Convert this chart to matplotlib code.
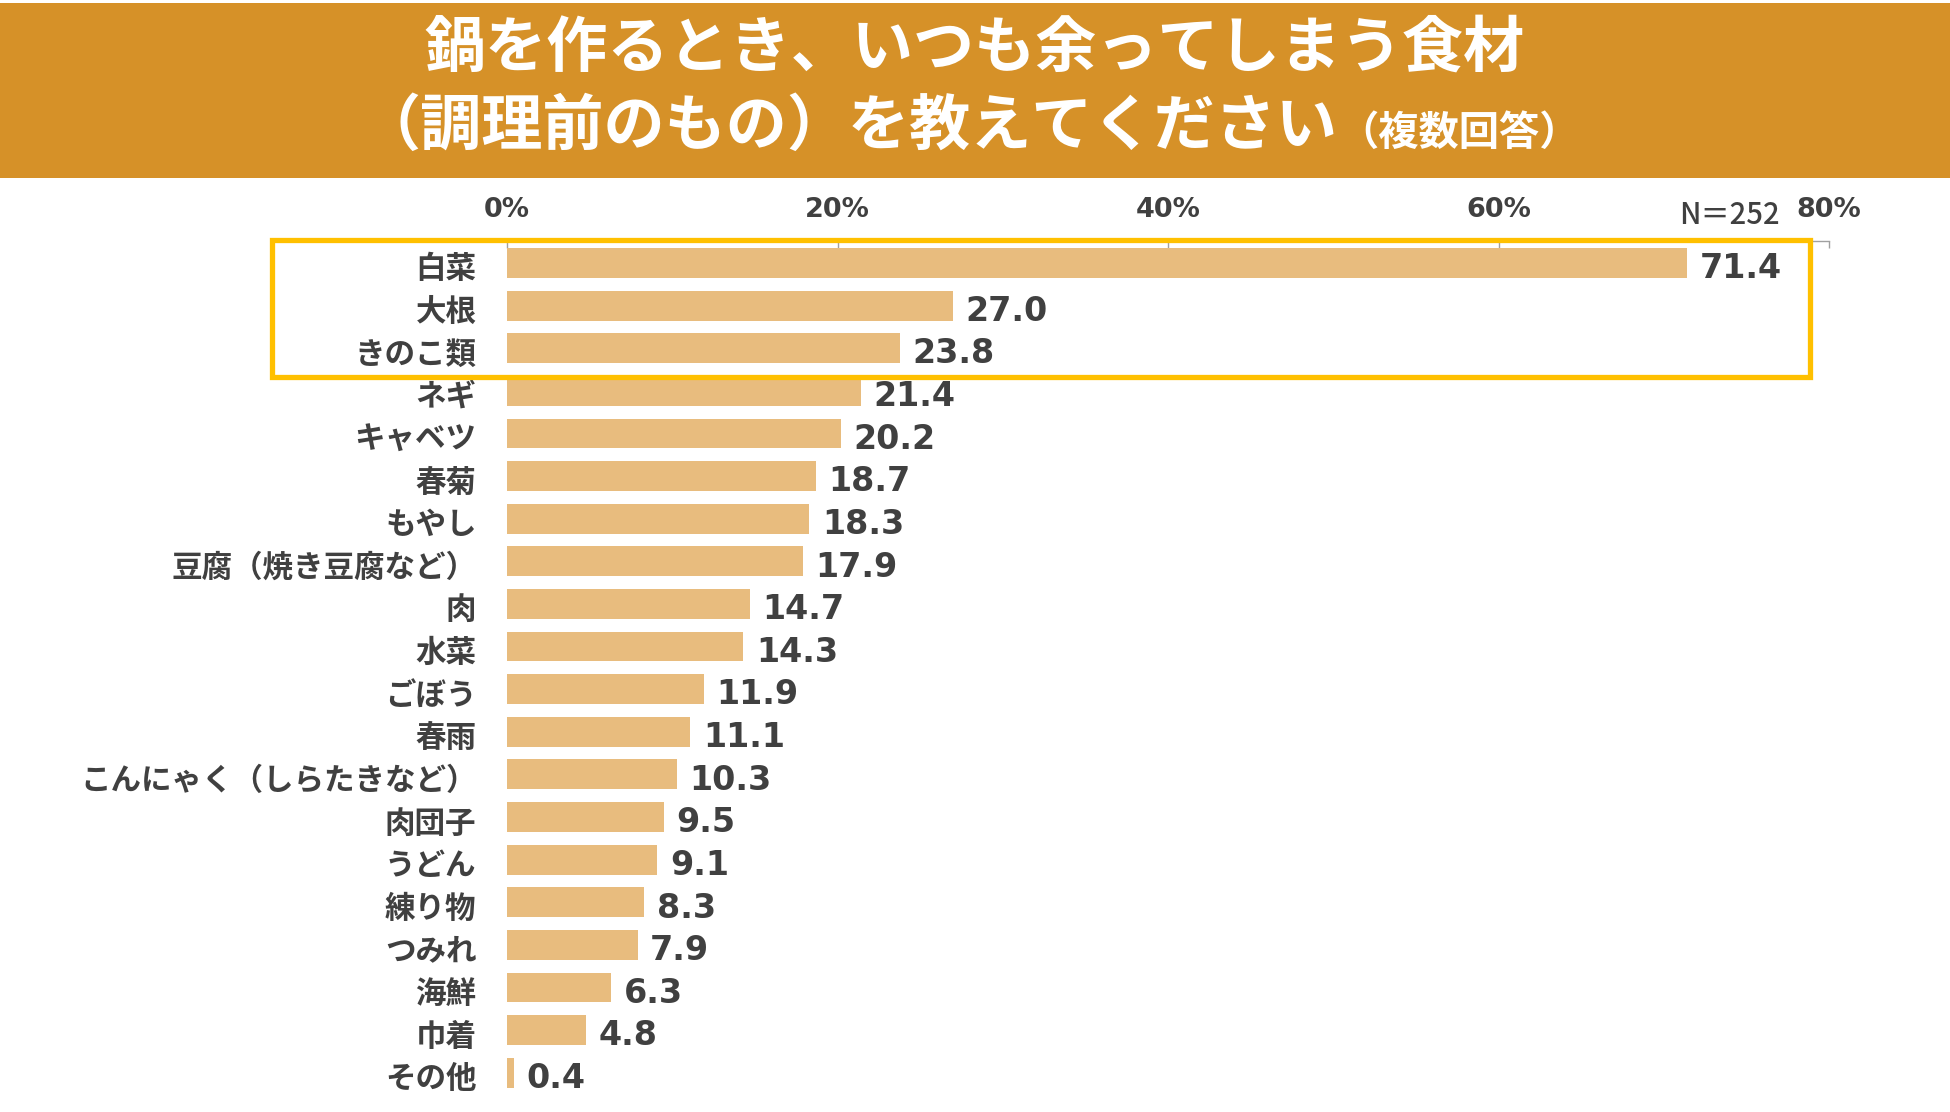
import matplotlib
matplotlib.use("Agg")
import matplotlib.pyplot as plt
from matplotlib.patches import Rectangle
from matplotlib.transforms import ScaledTranslation

categories = ["白菜", "大根", "きのこ類", "ネギ", "キャベツ", "春菊", "もやし",
              "豆腐（焼き豆腐など）", "肉", "水菜", "ごぼう", "春雨",
              "こんにゃく（しらたきなど）", "肉団子", "うどん", "練り物", "つみれ",
              "海鮮", "巾着", "その他"]
values = [71.4, 27.0, 23.8, 21.4, 20.2, 18.7, 18.3, 17.9, 14.7, 14.3,
          11.9, 11.1, 10.3, 9.5, 9.1, 8.3, 7.9, 6.3, 4.8, 0.4]
xticks = [0, 20, 40, 60, 80]
xticklabels = ["0%", "20%", "40%", "60%", "80%"]
highlight_n = 3

title1 = "鍋を作るとき、いつも余ってしまう食材"
title2 = "（調理前のもの）を教えてください"
title2_small = "（複数回答）"
n_label = "N＝252"

JP = ["Noto Sans CJK JP", "DejaVu Sans"]
TXT = "#404040"
BAR = "#E8BC7E"
BAND = "#D69128"
HL = "#FFC000"

W, H = 1950, 1112
fig = plt.figure(figsize=(W / 100, H / 100), dpi=100)
fig.patch.set_facecolor("white")

# title band
fig.patches.append(Rectangle((0, 1 - 178 / H), 1, 175 / H, transform=fig.transFigure,
                             facecolor=BAND, edgecolor="none", zorder=0))
fig.text(0.5, 1 - 49 / H, title1, ha="center", va="center", color="white",
         fontsize=44, fontweight="bold", family=JP)
fig.text(1338 / W, 1 - 127 / H, title2, ha="right", va="center", color="white",
         fontsize=44, fontweight="bold", family=JP)
fig.text(1338 / W, 1 - 133 / H, title2_small, ha="left", va="center", color="white",
         fontsize=29, fontweight="bold", family=JP)

# axes
top_px, bot_px = 241, 1094
left_px, right_px = 507, 1829
ax = fig.add_axes([left_px / W, 1 - bot_px / H, (right_px - left_px) / W, (bot_px - top_px) / H])
n = len(categories)
ypos = list(range(n))
ax.barh(ypos, values, height=0.70, color=BAR, zorder=2)
ax.set_xlim(0, 80)
ax.set_ylim(19.5, -0.516)

ax.xaxis.tick_top()
ax.set_xticks(xticks)
ax.set_xticklabels(xticklabels, fontsize=19.5, fontweight="bold", color=TXT, family="DejaVu Sans")
ax.tick_params(axis="x", direction="in", length=5, width=1, color="#A0A0A0", pad=13)

ax.tick_params(axis="y", length=0, pad=22)
ax.set_yticks(ypos)
ax.set_yticklabels(categories, family=JP, fontsize=22, fontweight="bold", color=TXT)
shift = ScaledTranslation(0, -3 / 100, fig.dpi_scale_trans)
for lab in ax.get_yticklabels():
    lab.set_transform(lab.get_transform() + shift)

for s in ["left", "right", "bottom"]:
    ax.spines[s].set_visible(False)
ax.spines["top"].set_color("#A0A0A0")
ax.spines["top"].set_linewidth(1)

for y, v in zip(ypos, values):
    ax.annotate(f"{v:.1f}", xy=(v, y), xytext=(9, -11), textcoords="offset points",
                ha="left", va="baseline", fontsize=24, fontweight="bold", color=TXT,
                family="DejaVu Sans")

# highlight box around top categories
box_top = -0.54
box_bottom = (highlight_n - 1) + 0.68
box = Rectangle((-14.2, box_top), 78.85 + 14.2, box_bottom - box_top,
                fill=False, edgecolor=HL, linewidth=3.8, clip_on=False, zorder=5)
ax.add_patch(box)

fig.text(1729 / W, 1 - 215 / H, n_label, ha="center", va="center", color=TXT,
         fontsize=21, fontweight="medium", family=JP)

fig.savefig("out.png", dpi=100, facecolor="white")
